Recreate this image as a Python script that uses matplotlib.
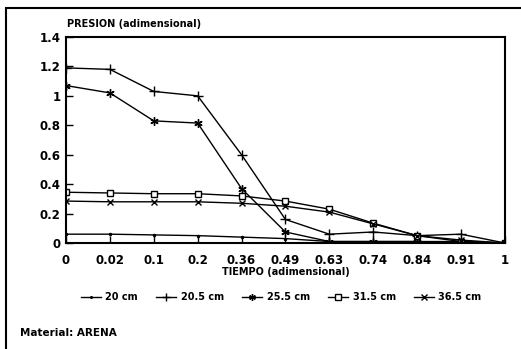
import matplotlib
matplotlib.use("Agg")
import matplotlib.pyplot as plt
from matplotlib.patches import Rectangle

# Data #
tiempo = ["0", "0.02", "0.1", "0.2", "0.36", "0.49", "0.63", "0.74", "0.84", "0.91", "1"]
p_20 = [0.06, 0.06, 0.055, 0.05, 0.04, 0.03, 0.01, 0.01, 0.01, 0.01, 0.0]
p_20_5 = [1.19, 1.18, 1.03, 1.0, 0.60, 0.16, 0.06, 0.075, 0.05, 0.06, 0.0]
p_25_5 = [1.07, 1.02, 0.83, 0.815, 0.37, 0.075, 0.01, 0.01, 0.01, 0.0, 0.0]
p_31_5 = [0.345, 0.34, 0.335, 0.335, 0.32, 0.285, 0.23, 0.135, 0.05, 0.01, 0.0]
p_36_5 = [0.285, 0.28, 0.28, 0.28, 0.27, 0.25, 0.21, 0.13, 0.05, 0.02, 0.0]
series_names = ["20 cm", "20.5 cm", "25.5 cm", "31.5 cm", "36.5 cm"]

plt.rcParams["font.family"] = ["DejaVu Sans"]
plt.rcParams["font.weight"] = "bold"

fig = plt.figure(figsize=(5.21, 3.49), dpi=100)
ax = fig.add_axes([0.1267, 0.3037, 0.8423, 0.5903])

# outer frame (left and top only visible)
fig.patches.append(Rectangle((6 / 521, -0.1), 1.2, 1 - 8 / 349 + 0.1, transform=fig.transFigure,
                             fill=False, lw=1.5, ec="black"))

x = list(range(len(tiempo)))
ax.plot(x, p_20, color="black", lw=1, marker=".", ms=3, label=series_names[0])
ax.plot(x, p_20_5, color="black", lw=1, marker="+", ms=7, mew=1, label=series_names[1])
ax.plot(x, p_25_5, color="black", lw=1, marker=(6, 2, 0), ms=6, mew=1, label=series_names[2])
ax.plot(x, p_31_5, color="black", lw=1, marker="s", ms=5, mfc="white", mew=1, label=series_names[3])
ax.plot(x, p_36_5, color="black", lw=1, marker="x", ms=5, mew=1, label=series_names[4])

ax.set_xlim(0, len(tiempo) - 1)
ax.set_ylim(0, 1.4)
ax.set_xticks(x)
ax.set_xticklabels(tiempo)
ax.set_yticks([0, 0.2, 0.4, 0.6, 0.8, 1.0, 1.2, 1.4])
ax.set_yticklabels(["0", "0.2", "0.4", "0.6", "0.8", "1", "1.2", "1.4"])
ax.tick_params(direction="in", length=5, width=1, labelsize=8.5)
ax.tick_params(axis="x", pad=8)
ax.tick_params(axis="y", pad=4)
for s in ax.spines.values():
    s.set_linewidth(1.5)

ax.set_xlabel("TIEMPO (adimensional)", fontsize=7, fontweight="bold", labelpad=0)
fig.text(67 / 521, 1 - 29 / 349, "PRESION (adimensional)", fontsize=7, fontweight="bold", va="bottom")

fig.legend(loc="center", bbox_to_anchor=(0.54, 1 - 297 / 349), ncol=5, frameon=False,
           fontsize=7, handlelength=2.0, columnspacing=1.9, handletextpad=0.5, markerscale=0.8)

fig.text(20 / 521, 1 - 333 / 349, "Material: ARENA", fontsize=7.5, fontweight="bold", va="center")

plt.savefig("out.png", dpi=100)
